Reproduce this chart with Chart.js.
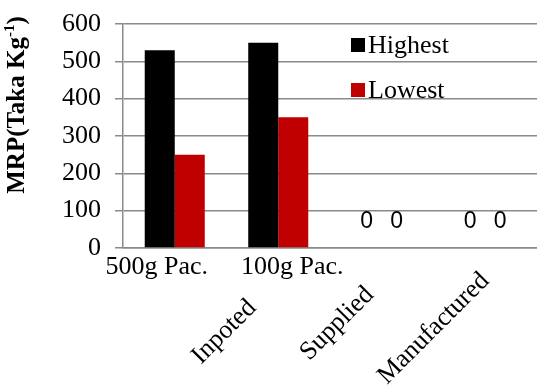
<!DOCTYPE html>
<html>
<head>
<meta charset="utf-8">
<script src="https://cdn.jsdelivr.net/npm/chart.js@4"></script>
<style>
  html, body { margin: 0; padding: 0; background: #fff; }
  #wrap { width: 537px; height: 385px; }
</style>
</head>
<body>
<div id="wrap"><canvas id="mrp"></canvas></div>
<script>
// data
const categories = ['500g Pac.', '100g Pac.', '', ''];
const groupLabels = ['Inpoted', 'Supplied', 'Manufactured'];
const highest = [530, 550, 0, 0];
const lowest = [250, 350, 0, 0];
const yMax = 600;
const yStep = 100;

const serif = '"Liberation Serif", "Times New Roman", serif';
const sans = '"Liberation Sans", Arial, sans-serif';

// x labels, rotated labels, zero labels, legend and y title
const extras = {
    id: 'extras',
    afterDraw(chart) {
        const c = chart.ctx;
        const x = chart.scales.x;
        const y = chart.scales.y;
        c.save();
        c.fillStyle = '#000';

        // first row of category labels
        const rowShift = [-18, 14, 0, 0];
        c.font = '26px ' + serif;
        c.textAlign = 'center';
        c.textBaseline = 'middle';
        categories.forEach((lab, i) => {
            if (lab) c.fillText(lab, x.getPixelForValue(i) + rowShift[i], 267);
        });

        // slanted labels
        const slant = [[1, -26, 304], [2, -12, 291], [3, 0, 277]];
        c.textAlign = 'right';
        groupLabels.forEach((lab, i) => {
            const s = slant[i];
            c.save();
            c.translate(x.getPixelForValue(s[0]) + s[1], s[2]);
            c.rotate(-Math.PI / 4);
            c.fillText(lab, 0, 0);
            c.restore();
        });

        // zero value labels
        c.font = '23px ' + sans;
        c.textAlign = 'center';
        chart.data.datasets.forEach((ds, di) => {
            const meta = chart.getDatasetMeta(di);
            ds.data.forEach((v, i) => {
                if (v === 0) c.fillText('0', meta.data[i].x, y.getPixelForValue(0) - 26);
            });
        });

        // legend inside plot
        c.font = '26px ' + serif;
        c.textAlign = 'left';
        chart.data.datasets.forEach((ds, di) => {
            const ly = 45 + di * 45;
            c.fillStyle = ds.backgroundColor;
            c.fillRect(351, ly - 7, 14, 14);
            c.fillStyle = '#000';
            c.fillText(ds.label, 368, ly + 1);
        });

        // y title with superscript
        c.save();
        c.translate(18, 105);
        c.rotate(-Math.PI / 2);
        c.textBaseline = 'middle';
        const main = 'MRP(Taka Kg';
        c.font = 'bold 25px ' + serif;
        const w1 = c.measureText(main).width;
        c.font = 'bold 15px ' + serif;
        const w2 = c.measureText('-1').width;
        c.font = 'bold 25px ' + serif;
        const w3 = c.measureText(')').width;
        let tx = -(w1 + w2 + w3) / 2;
        c.fillText(main, tx, 0);
        tx += w1;
        c.font = 'bold 15px ' + serif;
        c.fillText('-1', tx, -8);
        tx += w2;
        c.font = 'bold 25px ' + serif;
        c.fillText(')', tx, 0);
        c.restore();

        c.restore();
    }
};

const ctx = document.getElementById('mrp');
const chart = new Chart(ctx, {
    type: 'bar',
    data: {
        labels: categories,
        datasets: [{
            label: 'Highest',
            data: highest,
            backgroundColor: '#000000',
            categoryPercentage: 0.58,
            barPercentage: 1
        }, {
            label: 'Lowest',
            data: lowest,
            backgroundColor: '#C00000',
            categoryPercentage: 0.58,
            barPercentage: 1
        }]
    },
    options: {
        responsive: true,
        maintainAspectRatio: false,
        animation: false,
        layout: { padding: { top: 24, right: 0, left: 0, bottom: 0 } },
        plugins: {
            legend: { display: false },
            tooltip: { enabled: false }
        },
        scales: {
            x: {
                ticks: { display: false },
                grid: { display: false },
                border: { color: '#8a8a8a', width: 1.5 },
                afterFit: s => { s.height = 137; }
            },
            y: {
                min: 0,
                max: yMax,
                ticks: {
                    stepSize: yStep,
                    color: '#000',
                    padding: 14,
                    font: { family: serif, size: 26 }
                },
                grid: { color: '#8a8a8a', lineWidth: 1.5, tickLength: 8 },
                border: { color: '#8a8a8a', width: 1.5 },
                afterFit: s => {
                    s.width = 123;
                    s.paddingTop = 0;
                    s.paddingBottom = 0;
                }
            }
        }
    },
    plugins: [extras]
});
</script>
</body>
</html>
